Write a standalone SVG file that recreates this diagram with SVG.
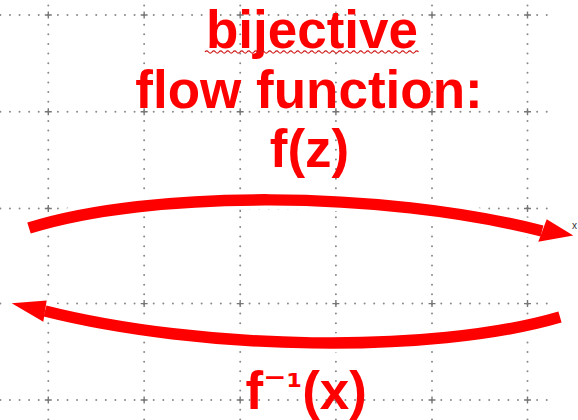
<svg xmlns="http://www.w3.org/2000/svg" width="578" height="420" viewBox="0 0 578 420">
<defs>
<style>
.gh{stroke:#8a8a8a;stroke-width:2;stroke-linecap:round;stroke-dasharray:0 9.585;fill:none}
.gv{stroke:#8a8a8a;stroke-width:2;stroke-linecap:round;stroke-dasharray:0 9.63;fill:none}
.cr{stroke:#777;stroke-width:1.4;fill:none}
.lbl{font-family:"Liberation Sans",Arial,sans-serif;font-weight:bold;font-size:53px;fill:#ff0000}
.sup{font-family:"DejaVu Sans",sans-serif}
.halo{stroke:#fff;stroke-width:19;fill:none;stroke-linecap:butt}
.arc{stroke:#ff0000;stroke-width:11.5;fill:none;stroke-linecap:butt}
.head{fill:#ff0000}
.headhalo{fill:#fff;stroke:#fff;stroke-width:6;stroke-linejoin:round}
</style>
<path id="plus" d="M-3.5,0H3.5M0,-3.5V3.5"/>
</defs>
<rect width="578" height="420" fill="#fff"/>
<g id="grid">
<line class="gh" x1="0.375" y1="15" x2="550" y2="15"/>
<line class="gh" x1="0.375" y1="111.7" x2="550" y2="111.7"/>
<line class="gh" x1="0.375" y1="208.5" x2="550" y2="208.5"/>
<line class="gh" x1="0.375" y1="303.6" x2="550" y2="303.6"/>
<line class="gh" x1="0.375" y1="400" x2="550" y2="400"/>
<line class="gv" x1="48.3" y1="5.4" x2="48.3" y2="420"/>
<line class="gv" x1="144.15" y1="5.4" x2="144.15" y2="420"/>
<line class="gv" x1="240.2" y1="5.4" x2="240.2" y2="420"/>
<line class="gv" x1="335.9" y1="5.4" x2="335.9" y2="420"/>
<line class="gv" x1="432" y1="5.4" x2="432" y2="420"/>
<line class="gv" x1="527.5" y1="5.4" x2="527.5" y2="420"/>
<g class="cr">
<use href="#plus" x="48.3" y="15"/><use href="#plus" x="144.15" y="15"/><use href="#plus" x="240.2" y="15"/><use href="#plus" x="335.9" y="15"/><use href="#plus" x="432" y="15"/><use href="#plus" x="527.5" y="15"/>
<use href="#plus" x="48.3" y="111.7"/><use href="#plus" x="144.15" y="111.7"/><use href="#plus" x="240.2" y="111.7"/><use href="#plus" x="335.9" y="111.7"/><use href="#plus" x="432" y="111.7"/><use href="#plus" x="527.5" y="111.7"/>
<use href="#plus" x="48.3" y="208.5"/><use href="#plus" x="144.15" y="208.5"/><use href="#plus" x="240.2" y="208.5"/><use href="#plus" x="335.9" y="208.5"/><use href="#plus" x="432" y="208.5"/><use href="#plus" x="527.5" y="208.5"/>
<use href="#plus" x="48.3" y="303.6"/><use href="#plus" x="144.15" y="303.6"/><use href="#plus" x="240.2" y="303.6"/><use href="#plus" x="335.9" y="303.6"/><use href="#plus" x="432" y="303.6"/><use href="#plus" x="527.5" y="303.6"/>
<use href="#plus" x="48.3" y="400"/><use href="#plus" x="144.15" y="400"/><use href="#plus" x="240.2" y="400"/><use href="#plus" x="335.9" y="400"/><use href="#plus" x="432" y="400"/><use href="#plus" x="527.5" y="400"/>
</g>
</g>
<g id="title">
<text class="lbl" x="312" y="48" text-anchor="middle">bijective</text>
<path d="M205,52 q1.75,-2.2 3.5,0 t3.5,0 t3.5,0 t3.5,0 t3.5,0 t3.5,0 t3.5,0 t3.5,0 t3.5,0 t3.5,0 t3.5,0 t3.5,0 t3.5,0 t3.5,0 t3.5,0 t3.5,0 t3.5,0 t3.5,0 t3.5,0 t3.5,0 t3.5,0 t3.5,0 t3.5,0 t3.5,0 t3.5,0 t3.5,0 t3.5,0 t3.5,0 t3.5,0 t3.5,0 t3.5,0 t3.5,0 t3.5,0 t3.5,0 t3.5,0 t3.5,0 t3.5,0 t3.5,0 t3.5,0 t3.5,0 t3.5,0 t3.5,0 t3.5,0 t3.5,0 t3.5,0 t3.5,0 t3.5,0 t3.5,0 t3.5,0 t3.5,0 t3.5,0 t3.5,0 t3.5,0 t3.5,0 t3.5,0 t3.5,0 t3.5,0 t3.5,0 t3.5,0 t3.5,0 t3.5,0" fill="none" stroke="#d01818" stroke-width="1.2"/>
<text class="lbl" x="309" y="107.5" text-anchor="middle">flow function:</text>
</g>
<g id="connectors">
<path class="halo" d="M29,228 C150,190 380,190 542,231"/>
<polygon class="headhalo" points="546.7,219.3 573.3,235.5 538.3,241.7"/>
<path class="halo" d="M560,317 C430,355 200,350 45,311"/>
<polygon class="headhalo" points="11.7,303.3 46.7,300.5 43.3,321.7"/>
<path class="arc" d="M29,228 C150,190 380,190 542,231"/>
<polygon class="head" points="546.7,219.3 573.3,235.5 538.3,241.7"/>
<path class="arc" d="M560,317 C430,355 200,350 45,311"/>
<polygon class="head" points="11.7,303.3 46.7,300.5 43.3,321.7"/>
</g>
<g id="label-forward">
<text class="lbl" x="309.5" y="166.5" text-anchor="middle">f(z)</text>
</g>
<g id="label-inverse">
<text class="lbl" x="245.5" y="409">f<tspan class="sup" font-size="44" dy="-9">⁻</tspan><tspan class="sup" font-size="36" dy="-1">¹</tspan><tspan dy="10">(x)</tspan></text>
</g>
<g id="edge-mark">
<text x="572" y="229" font-family="'Liberation Sans',Arial,sans-serif" font-size="10" fill="#333">x</text>
</g>
</svg>
